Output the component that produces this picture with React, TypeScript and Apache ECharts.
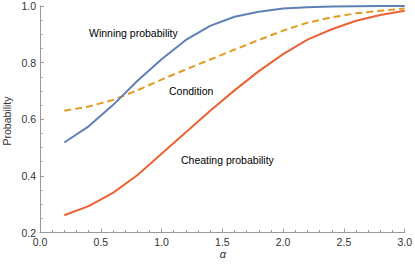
import React, { useEffect, useRef } from "react";
import * as echarts from "echarts";

const alphaValues = [0.2, 0.4, 0.6, 0.8, 1.0, 1.2, 1.4, 1.6, 1.8, 2.0, 2.2, 2.4, 2.6, 2.8, 3.0];
const winningProb = [0.518, 0.575, 0.65, 0.735, 0.812, 0.88, 0.93, 0.962, 0.98, 0.991, 0.996, 0.998, 0.999, 1.0, 1.0];
const conditionVals = [0.63, 0.645, 0.668, 0.702, 0.74, 0.776, 0.811, 0.846, 0.88, 0.913, 0.941, 0.96, 0.974, 0.983, 0.991];
const cheatingProb = [0.261, 0.293, 0.34, 0.402, 0.478, 0.554, 0.63, 0.702, 0.77, 0.83, 0.881, 0.918, 0.948, 0.968, 0.983];

const seriesNames = ["Winning probability", "Condition", "Cheating probability"];
const xTitle = "α";
const yTitle = "Probability";

const FONT = "'Liberation Sans', Arial, sans-serif";
const AXIS = "#9a9a9a";
const TEXT = "#333333";

export default function App() {
  const ref = useRef<HTMLDivElement>(null);
  useEffect(() => {
    if (!ref.current) return;
    const chart = echarts.init(ref.current, null, { renderer: "svg" });
    const pair = (ys: number[]) => alphaValues.map((a, i) => [a, ys[i]]);
    chart.setOption({
      animation: false,
      grid: { left: 40, right: 8.5, top: 6, bottom: 35.5, containLabel: false },
      xAxis: {
        type: "value",
        min: 0,
        max: 3,
        interval: 0.5,
        axisLine: { show: true, onZero: false, lineStyle: { color: AXIS, width: 1 } },
        axisTick: { show: true, inside: true, length: 4, lineStyle: { color: AXIS } },
        minorTick: { show: true, splitNumber: 5, length: 2.5, lineStyle: { color: AXIS } },
        splitLine: { show: false },
        axisLabel: {
          color: TEXT,
          fontFamily: FONT,
          fontSize: 10.5,
          margin: 4,
          formatter: (v: number) => v.toFixed(1),
        },
      },
      yAxis: {
        type: "value",
        min: 0.2,
        max: 1.0,
        interval: 0.2,
        axisLine: { show: true, onZero: false, lineStyle: { color: AXIS, width: 1 } },
        axisTick: { show: true, inside: true, length: 4, lineStyle: { color: AXIS } },
        minorTick: { show: true, splitNumber: 4, length: 2.5, lineStyle: { color: AXIS } },
        splitLine: { show: false },
        axisLabel: {
          color: TEXT,
          fontFamily: FONT,
          fontSize: 10.5,
          margin: 4,
          formatter: (v: number) => v.toFixed(1),
        },
      },
      series: [
        {
          name: seriesNames[0],
          type: "line",
          data: pair(winningProb),
          showSymbol: false,
          lineStyle: { color: "#5E81B5", width: 2 },
          z: 3,
        },
        {
          name: seriesNames[1],
          type: "line",
          data: pair(conditionVals),
          showSymbol: false,
          lineStyle: { color: "#E19C24", width: 2, type: [7, 4] },
          z: 2,
        },
        {
          name: seriesNames[2],
          type: "line",
          data: pair(cheatingProb),
          showSymbol: false,
          lineStyle: { color: "#EB6235", width: 2 },
          z: 4,
        },
      ],
      graphic: [
        {
          type: "text",
          left: 89,
          top: 27,
          style: { text: seriesNames[0], fill: "#000", font: `10.5px ${FONT}` },
        },
        {
          type: "text",
          left: 169,
          top: 85,
          style: { text: seriesNames[1], fill: "#000", font: `10.5px ${FONT}` },
        },
        {
          type: "text",
          left: 181,
          top: 154,
          style: { text: seriesNames[2], fill: "#000", font: `10.5px ${FONT}` },
        },
        {
          type: "text",
          x: 7,
          y: 121,
          rotation: Math.PI / 2,
          style: {
            text: yTitle,
            fill: TEXT,
            font: `10.5px ${FONT}`,
            align: "center",
            verticalAlign: "middle",
          },
        },
        {
          type: "text",
          x: 223,
          y: 254,
          style: {
            text: xTitle,
            fill: TEXT,
            font: `italic 11px ${FONT}`,
            align: "center",
            verticalAlign: "middle",
          },
        },
      ],
    });
    return () => chart.dispose();
  }, []);
  return <div ref={ref} style={{ width: 415, height: 268, position: "absolute", left: 0, top: 0 }} />;
}
